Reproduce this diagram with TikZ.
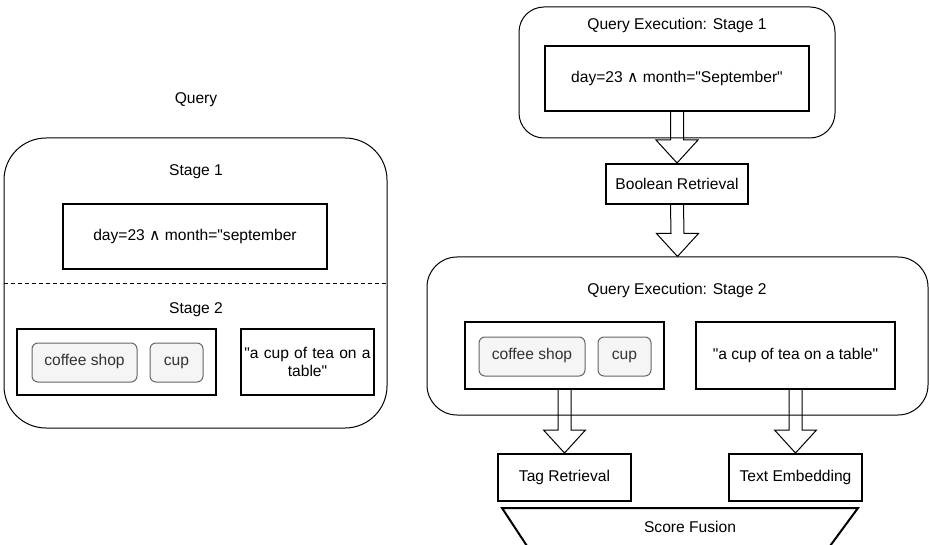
\documentclass[tikz,border=0pt]{standalone}
\usepackage{fontspec}
\setmainfont{Liberation Sans}
\newfontfamily\symfont{DejaVu Sans}
\usetikzlibrary{calc}

\definecolor{chipfill}{HTML}{F5F5F5}
\definecolor{chipline}{HTML}{666666}
\definecolor{chiptext}{HTML}{333333}

\tikzset{
  frame/.style={draw, line width=1pt, rounded corners=#1, inner sep=0pt},
  box/.style={draw, line width=2pt, inner sep=2pt, align=center},
  chip/.style={draw=chipline, fill=chipfill, text=chiptext, line width=1pt,
    rounded corners=6pt, minimum height=39pt, text height=0.72em, text depth=0.2em},
  lbl/.style={inner sep=0pt},
  blockarr/.style={draw, line width=1pt, line join=miter}
}

% hollow block arrow from the bottom of one node to the top of another
\newcommand\blockarrow[2]{%
  \draw[blockarr] ($(#1.south)+(-6.5,0)$) -- ($(#2.north)+(-6.5,-23)$)
    -- ($(#2.north)+(-21,-23)$) -- (#2.north) -- ($(#2.north)+(21,-23)$)
    -- ($(#2.north)+(6.5,-23)$) -- ($(#1.south)+(6.5,0)$);}

\newcommand\andsym{{\symfont ∧}}
\newcommand\dq{\textquotedbl}

\begin{document}
\begin{tikzpicture}[x=1pt,y=-1pt,font=\fontsize{15.6}{18.5}\selectfont]
\useasboundingbox (0,0) rectangle (929,545);

% left: the query
\node[lbl] (query) at (196,100) {Query};
\node[frame=42pt, minimum width=383pt, minimum height=290pt] (qframe) at (195.5,283) {};
\node[lbl] (stage1) at (196,172) {Stage 1};
\node[box, minimum width=264pt, minimum height=65pt] (qbool) at (195,236.5)
  {day=23 \andsym{} month=\dq september};
\draw[line width=1pt, dash pattern=on 4pt off 3pt] ($(qframe.west)+(0,1)$) -- ($(qframe.east)+(0,1)$);
\node[lbl] (stage2) at (196,310) {Stage 2};
\node[box, minimum width=199pt, minimum height=66pt] (qtags) at (116.5,362) {};
\node[chip, minimum width=105pt] (qcoffee) at (84.5,362.5) {coffee shop};
\node[chip, minimum width=53pt] (qcup) at (176.5,362.5) {cup};
\node[box, minimum width=133pt, minimum height=66pt, text width=129pt] (qtext) at (307.5,362)
  {\dq a cup of tea on a\\ table\dq};

% right: stage 1 execution
\node[frame=25pt, minimum width=316pt, minimum height=131pt] (exec1) at (677,72.5) {};
\node[lbl] (exec1title) at (677,25) {Query Execution: Stage 1};
\node[box, minimum width=264pt, minimum height=65pt] (ebool) at (677,78.5)
  {day=23 \andsym{} month=\dq September\dq};
\node[box, minimum width=142pt, minimum height=40pt] (boolret) at (677,184) {Boolean Retrieval};

% right: stage 2 execution
\node[frame=30pt, minimum width=501pt, minimum height=158pt] (exec2) at (677.5,336) {};
\node[lbl] (exec2title) at (677,290) {Query Execution: Stage 2};
\node[box, minimum width=199pt, minimum height=67pt] (etags) at (564.5,355.5) {};
\node[chip, minimum width=106pt] (ecoffee) at (532,356.5) {coffee shop};
\node[chip, minimum width=53pt] (ecup) at (624.5,356.5) {cup};
\node[box, minimum width=199pt, minimum height=67pt] (etext) at (795.5,355.5)
  {\dq a cup of tea on a table\dq};

\node[box, minimum width=133pt, minimum height=47pt] (tagret) at (564.5,477.5) {Tag Retrieval};
\node[box, minimum width=133pt, minimum height=47pt] (textemb) at (795.5,477.5) {Text Embedding};

\draw[line width=2pt] (527,546) -- (502,508) -- (858,508) -- (830,546);
\node[lbl] (fusion) at (690,527) {Score Fusion};

\blockarrow{ebool}{boolret}
\blockarrow{boolret}{exec2}
\blockarrow{etags}{tagret}
\blockarrow{etext}{textemb}
\end{tikzpicture}
\end{document}
